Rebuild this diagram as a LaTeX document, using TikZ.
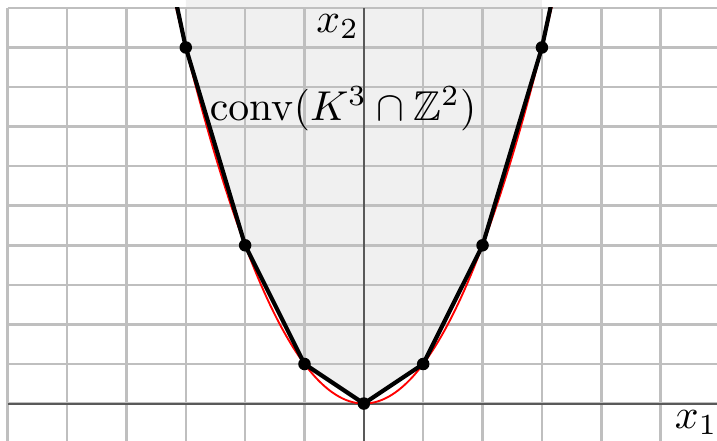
\documentclass[tikz,border=0pt]{standalone}
\usepackage{amssymb}
\usetikzlibrary{calc}

\begin{document}
\begin{tikzpicture}[
    x=0.5cm, y=0.3333cm,
    gridline/.style={black!25, line width=0.6pt},
    axisline/.style={black!65, line width=0.5pt},
    hull/.style={black, line width=1pt, line join=round},
    curve/.style={red, line width=0.45pt},
    pt/.style={circle, fill=black, inner sep=0pt, minimum size=3pt},
]
\useasboundingbox (-6.13,-0.934) rectangle (5.95,10.2);

% ================= puntos enteros de la parabola =================
\foreach \i in {-4,...,4}
    \coordinate (p\i) at (\i,{(\i)*(\i)});

% ================= region sombreada =================
\fill[black!6] (-3,10.2) -- (p-3) -- (p-2) -- (p-1) -- (p0) -- (p1) -- (p2) -- (p3) -- (3,10.2) -- cycle;

% ================= reticula y ejes =================
\draw[gridline, step={(1,1)}] (-6,-1) grid (6,10);
\draw[axisline] (-6,0) -- (6,0);
\draw[axisline] (0,-1) -- (0,10);

% ================= parabola y envolvente =================
\begin{scope}
    \clip (-6,-1) rectangle (6,10);
    \draw[curve, domain=-3.3:3.3, samples=120] plot (\x,{\x*\x});
    \draw[hull] (p-4) -- (p-3) -- (p-2) -- (p-1) -- (p0) -- (p1) -- (p2) -- (p3) -- (p4);
\end{scope}
\foreach \i in {-3,...,3}
    \node[pt] (q\i) at (p\i) {};

% etiquetas
\node (lx1) at (5.60,-0.47) {$x_1$};
\node (lx2) at (-0.44,9.53) {$x_2$};
\node (lconv) at (-0.35,7.45) {$\mathrm{conv}(K^3\cap\mathbb{Z}^2)$};

\end{tikzpicture}
\end{document}
